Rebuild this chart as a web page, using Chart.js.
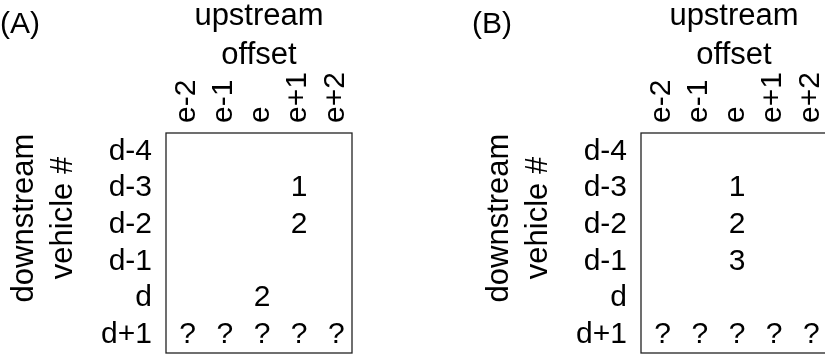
<!DOCTYPE html>
<html>
<head>
<meta charset="utf-8">
<script src="https://cdn.jsdelivr.net/npm/chart.js@4"></script>
<style>
html, body { margin: 0; padding: 0; overflow: hidden; background: #fff; }
.panel { position: absolute; top: 0; }
</style>
</head>
<body>
<div class="panel" style="left:0"><canvas id="chartA" width="470" height="356"></canvas></div>
<div class="panel" style="left:470px"><canvas id="chartB" width="470" height="356"></canvas></div>
<script>
// grid categories
var cols = ["e-2", "e-1", "e", "e+1", "e+2"];
var rows = ["d-4", "d-3", "d-2", "d-1", "d", "d+1"];

// panel A cells
var xA = ["e+1", "e+1", "e", "e-2", "e-1", "e", "e+1", "e+2"];
var yA = ["d-3", "d-2", "d", "d+1", "d+1", "d+1", "d+1", "d+1"];
var textA = ["1", "2", "2", "?", "?", "?", "?", "?"];

// panel B cells
var xB = ["e", "e", "e", "e-2", "e-1", "e", "e+1", "e+2"];
var yB = ["d-3", "d-2", "d-1", "d+1", "d+1", "d+1", "d+1", "d+1"];
var textB = ["1", "2", "3", "?", "?", "?", "?", "?"];

var xTitle = ["upstream", "offset"];
var yTitle = ["downstream", "vehicle #"];

Chart.defaults.font.family = "'Liberation Sans', Arial, sans-serif";
Chart.defaults.color = "#000";

var gridText = {
  id: 'gridText',
  afterDatasetsDraw: function(chart) {
    var ctx = chart.ctx;
    var ds = chart.data.datasets[0];
    var meta = chart.getDatasetMeta(0);
    ctx.save();
    ctx.font = "30px 'Liberation Sans', Arial, sans-serif";
    ctx.fillStyle = "#000";
    ctx.textAlign = "center";
    ctx.textBaseline = "middle";
    meta.data.forEach(function(pt, i) {
      ctx.fillText(ds.cellText[i], pt.x + 3, pt.y);
    });
    ctx.restore();
  },
  afterDraw: function(chart, args, opts) {
    var ctx = chart.ctx, a = chart.chartArea;
    ctx.save();
    // box
    ctx.strokeStyle = "#222";
    ctx.lineWidth = 1.3;
    ctx.strokeRect(a.left, a.top, a.right - a.left, a.bottom - a.top);
    // panel tag
    ctx.fillStyle = "#000";
    ctx.font = "30px 'Liberation Sans', Arial, sans-serif";
    ctx.textAlign = "left";
    ctx.textBaseline = "alphabetic";
    ctx.fillText(opts.tag, a.left + opts.tagX, 33);
    // y title, rotated
    ctx.font = "31px 'Liberation Sans', Arial, sans-serif";
    ctx.textAlign = "center";
    ctx.translate(a.left, a.top + 85);
    ctx.rotate(-Math.PI / 2);
    ctx.fillText(yTitle[0], 0, -133);
    ctx.fillText(yTitle[1], 0, -94);
    ctx.restore();
  }
};

function makePanel(id, tag, tagX, xs, ys, texts, axisWidth, padRight) {
  var pts = xs.map(function(x, i) { return {x: x, y: ys[i]}; });
  return new Chart(document.getElementById(id).getContext('2d'), {
    type: 'scatter',
    data: {
      datasets: [{
        data: pts,
        cellText: texts,
        pointRadius: 0,
        pointHoverRadius: 0
      }]
    },
    options: {
      responsive: false,
      animation: false,
      events: [],
      layout: { padding: { top: 0, left: 0, right: padRight, bottom: 3 } },
      plugins: {
        legend: { display: false },
        tooltip: { enabled: false },
        gridText: { tag: tag, tagX: tagX }
      },
      scales: {
        x: {
          type: 'category',
          labels: cols,
          position: 'top',
          offset: true,
          grid: { display: false, drawTicks: false },
          border: { display: false },
          ticks: { font: { size: 30 }, minRotation: 90, maxRotation: 90, autoSkip: false, padding: 10, labelOffset: 38 },
          title: { display: true, text: xTitle, font: { size: 31, lineHeight: 1.25 }, padding: { top: -3, bottom: 0 } },
          afterFit: function(s) { s.height = 133; s.paddingLeft = 0; s.paddingRight = 0; }
        },
        y: {
          type: 'category',
          labels: rows,
          offset: true,
          grid: { display: false, drawTicks: false },
          border: { display: false },
          ticks: { font: { size: 30 }, autoSkip: false, padding: 14 },
          afterFit: function(s) { s.width = axisWidth; s.paddingTop = 0; s.paddingBottom = 0; }
        }
      }
    },
    plugins: [gridText]
  });
}

makePanel("chartA", "(A)", -166, xA, yA, textA, 166, 118);
makePanel("chartB", "(B)", -169, xB, yB, textB, 171, 113);
</script>
</body>
</html>
